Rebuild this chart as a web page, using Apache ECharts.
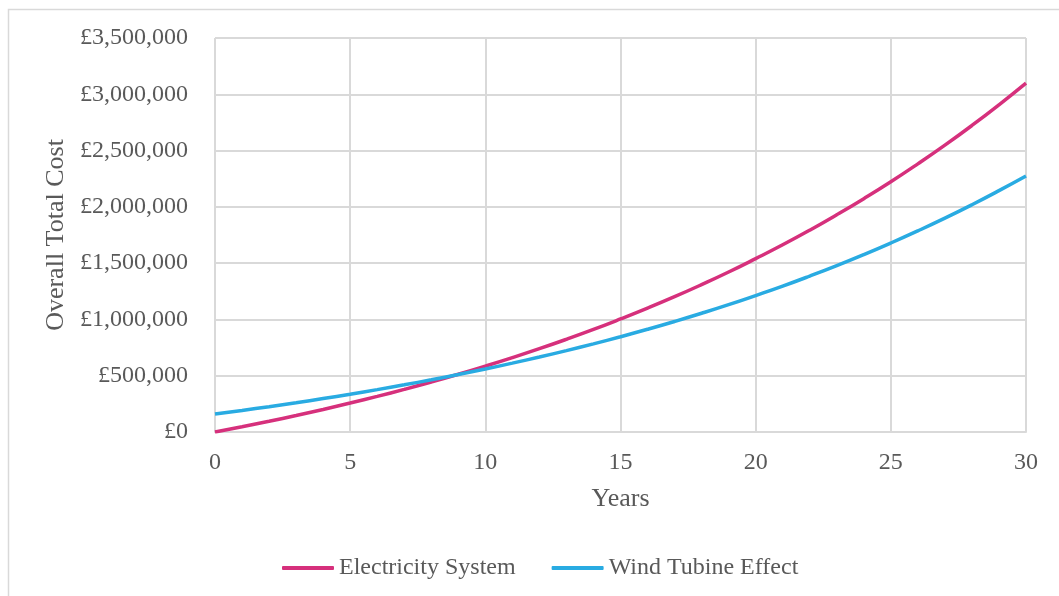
<!DOCTYPE html>
<html>
<head>
<meta charset="utf-8">
<title>Overall Total Cost</title>
<script src="https://cdn.jsdelivr.net/npm/echarts@6/dist/echarts.min.js"></script>
<style>
  html, body { margin: 0; padding: 0; background: #ffffff; }
  #chart { width: 1059px; height: 596px; }
</style>
</head>
<body>
<div id="chart"></div>
<script>
// Years of operation
const years = [0, 1, 2, 3, 4, 5, 6, 7, 8, 9, 10, 11, 12, 13, 14, 15,
               16, 17, 18, 19, 20, 21, 22, 23, 24, 25, 26, 27, 28, 29, 30];

// Cumulative cost of the electricity system (£)
const electricitySystem = [
  0, 46500, 95300, 146600, 200400, 257000, 316300, 378600, 444000, 512700,
  585000, 660600, 740100, 823700, 911300, 1004000, 1100500, 1202000, 1309000,
  1421000, 1540000, 1663000, 1793000, 1930000, 2073000, 2223000, 2382000,
  2548000, 2723000, 2907000, 3100000
];

// Cumulative cost with the wind turbine (£)
const windTurbine = [
  160000, 191800, 225200, 260200, 297100, 335700, 376300, 418900, 463700, 510600,
  560000, 611800, 666200, 723300, 783200, 846200, 912300, 981700, 1054600,
  1131100, 1212000, 1296000, 1385000, 1478000, 1576000, 1679000, 1787000,
  1900000, 2019000, 2144000, 2274000
];

const seriesNames = ['Electricity System', 'Wind Tubine Effect'];
const seriesColors = ['#d6307c', '#29abe2'];
const yTickStep = 500000;
const yMax = 3500000;

const textColor = '#595959';
const gridColor = '#d9d9d9';
const font = '"Liberation Serif", "Times New Roman", serif';

function pounds(v) {
  return '£' + v.toString().replace(/\B(?=(\d{3})+(?!\d))/g, ',');
}

const chart = echarts.init(document.getElementById('chart'), null, { renderer: 'canvas' });

chart.setOption({
  backgroundColor: '#ffffff',
  animation: false,
  graphic: [{
    type: 'rect',
    shape: { x: 8.5, y: 9.5, width: 1200, height: 800 },
    style: { fill: 'none', stroke: gridColor, lineWidth: 1.5 },
    silent: true
  }],
  grid: { left: 215, right: 33, top: 38, bottom: 164, containLabel: false },
  legend: {
    left: 277,
    top: 551,
    icon: 'roundRect',
    itemWidth: 52,
    itemHeight: 4,
    itemGap: 36,
    data: seriesNames,
    textStyle: { color: textColor, fontFamily: font, fontSize: 24 }
  },
  xAxis: {
    type: 'value',
    min: 0,
    max: 30,
    interval: 5,
    name: 'Years',
    nameLocation: 'middle',
    nameGap: 54,
    nameTextStyle: { color: textColor, fontFamily: font, fontSize: 26 },
    axisLine: { show: true, lineStyle: { color: gridColor, width: 2 } },
    axisTick: { show: false },
    axisLabel: { color: textColor, fontFamily: font, fontSize: 24, margin: 19 },
    splitLine: { show: true, lineStyle: { color: gridColor, width: 2 } }
  },
  yAxis: {
    type: 'value',
    min: 0,
    max: yMax,
    interval: yTickStep,
    name: 'Overall Total Cost',
    nameLocation: 'middle',
    nameGap: 145,
    nameTextStyle: { color: textColor, fontFamily: font, fontSize: 26 },
    axisLine: { show: false },
    axisTick: { show: false },
    axisLabel: { color: textColor, fontFamily: font, fontSize: 24, margin: 27, formatter: pounds },
    splitLine: { show: true, lineStyle: { color: gridColor, width: 2 } }
  },
  series: [
    {
      name: seriesNames[0],
      type: 'line',
      data: years.map((y, i) => [y, electricitySystem[i]]),
      smooth: true,
      symbol: 'none',
      color: seriesColors[0],
      lineStyle: { width: 3.5, color: seriesColors[0] },
      z: 3
    },
    {
      name: seriesNames[1],
      type: 'line',
      data: years.map((y, i) => [y, windTurbine[i]]),
      smooth: true,
      symbol: 'none',
      color: seriesColors[1],
      lineStyle: { width: 3.5, color: seriesColors[1] },
      z: 4
    }
  ]
});
</script>
</body>
</html>
